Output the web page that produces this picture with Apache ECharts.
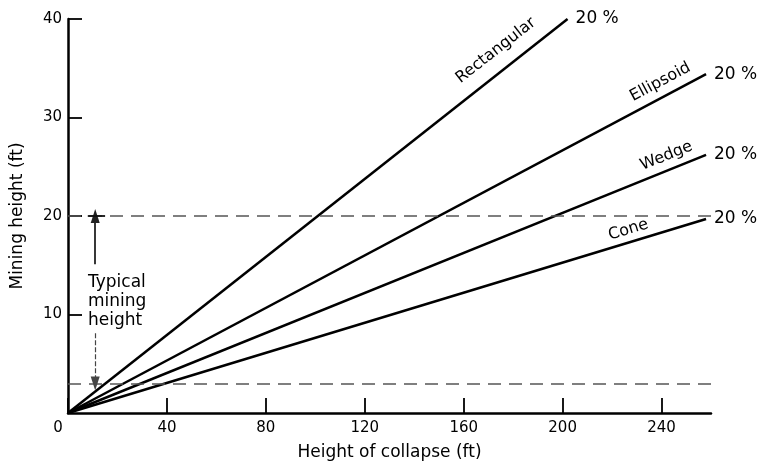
<!DOCTYPE html>
<html style="height: 100%">
<head>
    <meta charset="utf-8">
    <script type="text/javascript" src="https://cdn.jsdelivr.net/npm/echarts@6/dist/echarts.min.js"></script>
</head>
<body style="height: 100%; margin: 0; background: #fff">
    <div id="chart" style="height: 467px; width: 766px;"></div>

    <script type="text/javascript">
        // collapse shapes, line end points [height of collapse, mining height]
        var shapeNames = ['Rectangular', 'Ellipsoid', 'Wedge', 'Cone'];
        var shapeEnds = [[202, 40], [258, 34.4], [258, 26.2], [258, 19.7]];
        var bulking = ['20 %', '20 %', '20 %', '20 %'];
        // where each shape name sits along its line, and its slant
        var nameAt = [[173, 36.8], [239.5, 33.6], [242, 26.1], [226.6, 18.6]];
        var nameTilt = [38, 28, 22, 17];

        var xTicks = [0, 40, 80, 120, 160, 200, 240];
        var miningRange = [3, 20];   // typical mining height (ft)

        var font = 'DejaVu Sans';
        var chart = echarts.init(document.getElementById('chart'));

        var series = shapeNames.map(function (name, i) {
            return {
                name: name,
                type: 'line',
                data: [[0, 0], shapeEnds[i]],
                symbol: 'none',
                silent: true,
                lineStyle: { color: '#000', width: 2.5 },
                endLabel: {
                    show: true,
                    formatter: bulking[i],
                    distance: 8,
                    color: '#000',
                    fontFamily: font,
                    fontSize: 17
                },
                markPoint: {
                    symbolSize: 0,
                    data: [{
                        coord: nameAt[i],
                        label: {
                            show: true,
                            position: 'inside',
                            formatter: name,
                            rotate: nameTilt[i],
                            color: '#000',
                            fontFamily: font,
                            fontSize: 16
                        }
                    }]
                }
            };
        });

        // dashed limits + the "typical mining height" arrows
        series.push({
            type: 'line',
            data: [],
            silent: true,
            markLine: {
                silent: true,
                symbol: 'none',
                label: { show: false },
                lineStyle: { color: '#555', type: [13, 8], width: 1.5 },
                data: [{ yAxis: miningRange[1] }, { yAxis: miningRange[0] }]
            },
            markPoint: {
                symbolSize: 0,
                data: [{
                    coord: [8.1, 11.3],
                    label: {
                        show: true,
                        position: 'inside',
                        align: 'left',
                        verticalAlign: 'middle',
                        formatter: 'Typical\nmining\nheight',
                        lineHeight: 19,
                        color: '#000',
                        fontFamily: font,
                        fontSize: 17
                    }
                }]
            }
        });
        series.push({
            type: 'line',
            data: [],
            silent: true,
            markLine: {
                silent: true,
                label: { show: false },
                symbol: ['none', 'triangle'],
                symbolSize: [9, 14],
                data: [
                    [{ coord: [11, 15.1], lineStyle: { color: '#222', width: 1.8, type: 'solid' } }, { coord: [11, miningRange[1]] }],
                    [{ coord: [11, 8.1], lineStyle: { color: '#444', width: 1.2, type: [5, 2] } }, { coord: [11, miningRange[0]] }],
                    [{ coord: [8, miningRange[1]], symbol: 'none', lineStyle: { color: '#111', width: 1.8, type: 'solid' } }, { coord: [15, miningRange[1]], symbol: 'none' }]
                ]
            }
        });

        var option = {
            animation: false,
            grid: { left: 68, right: 55, top: 19, bottom: 54, outerBoundsMode: 'none' },
            xAxis: {
                type: 'value',
                min: 0,
                max: 260,
                interval: 40,
                name: 'Height of collapse (ft)',
                nameLocation: 'middle',
                nameGap: 31,
                nameTextStyle: { color: '#000', fontFamily: font, fontSize: 17 },
                splitLine: { show: false },
                axisLine: { show: true, lineStyle: { color: '#000', width: 2.5 } },
                axisTick: { show: true, inside: true, length: 15, customValues: xTicks, lineStyle: { color: '#000', width: 1.8 } },
                axisLabel: {
                    customValues: xTicks,
                    margin: 8,
                    color: '#000',
                    fontFamily: font,
                    fontSize: 15,
                    formatter: function (v) { return v === 0 ? '{z|0}' : String(v); },
                    rich: { z: { padding: [0, 20, 0, 0], fontFamily: font, fontSize: 15, color: '#000' } }
                }
            },
            yAxis: {
                type: 'value',
                min: 0,
                max: 40,
                interval: 10,
                name: 'Mining height (ft)',
                nameLocation: 'middle',
                nameGap: 42,
                nameTextStyle: { color: '#000', fontFamily: font, fontSize: 17 },
                splitLine: { show: false },
                axisLine: { show: true, lineStyle: { color: '#000', width: 2.5 } },
                axisTick: { show: true, inside: true, length: 14, lineStyle: { color: '#000', width: 1.8 } },
                axisLabel: {
                    showMinLabel: false,
                    margin: 6,
                    color: '#000',
                    fontFamily: font,
                    fontSize: 15
                }
            },
            series: series
        };

        chart.setOption(option);
    </script>
</body>
</html>
